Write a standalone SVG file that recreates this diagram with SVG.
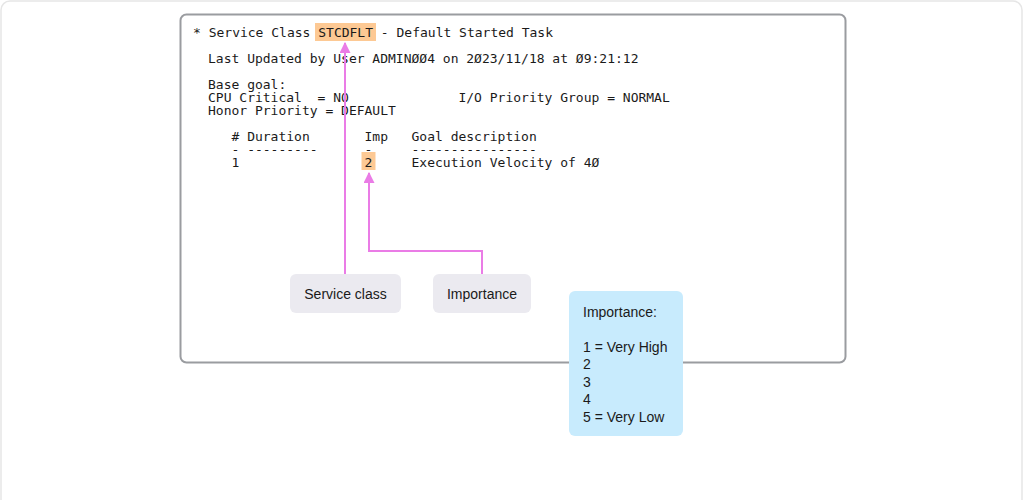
<svg xmlns="http://www.w3.org/2000/svg" width="1025" height="500" viewBox="0 0 1025 500">
<style>
.mono{font-family:"DejaVu Sans Mono","Liberation Mono",monospace;font-size:13px;fill:#1a1a1a;white-space:pre}
.sans{font-family:"Liberation Sans",Arial,sans-serif;font-size:14px;fill:#1a1a1a}
.hl{fill:#fdc994}
.conn{fill:none;stroke:#ea7ce6;stroke-width:2}
.tag{fill:#ebeaf0}
</style>
<defs>
<marker id="ah" viewBox="0 0 10 10" refX="9" refY="5" markerWidth="5.5" markerHeight="5.5" orient="auto" markerUnits="strokeWidth">
<path d="M0,0 L10,5 L0,10 Z" fill="#ea7ce6"/>
</marker>
</defs>
<rect x="1" y="1" width="1021" height="520" rx="9" fill="#ffffff" stroke="#e6e6e6" stroke-width="1.5"/>
<g id="screen">
<rect x="180.5" y="14.5" width="665" height="348" rx="6" fill="#ffffff" stroke="#9a9ca0" stroke-width="2"/>
<rect class="hl" x="315" y="23" width="61" height="18"/>
<rect class="hl" x="361.5" y="152" width="14" height="18"/>
<text class="mono" x="193" y="37" xml:space="preserve">* Service Class STCDFLT - Default Started Task</text>
<text class="mono" x="208" y="63" xml:space="preserve">Last Updated by User ADMINØØ4 on 2Ø23/11/18 at Ø9:21:12</text>
<text class="mono" x="208" y="89" xml:space="preserve">Base goal:</text>
<text class="mono" x="208" y="102" xml:space="preserve">CPU Critical  = NO              I/O Priority Group = NORMAL</text>
<text class="mono" x="208" y="115" xml:space="preserve">Honor Priority = DEFAULT</text>
<text class="mono" x="208" y="141" xml:space="preserve">   # Duration       Imp   Goal description</text>
<text class="mono" x="208" y="154" xml:space="preserve">   - ---------      -     ----------------</text>
<text class="mono" x="208" y="167" xml:space="preserve">   1                2     Execution Velocity of 4Ø</text>
</g>
<g id="connectors">
<path class="conn" d="M345,274 V43" marker-end="url(#ah)"/>
<path class="conn" d="M482,274 V251 H369 V173" marker-end="url(#ah)"/>
</g>
<g id="service-class">
<rect class="tag" x="290" y="274" width="111" height="39" rx="6"/>
<text class="sans" x="345.5" y="299" text-anchor="middle">Service class</text>
</g>
<g id="importance">
<rect class="tag" x="433" y="274" width="98" height="39" rx="6"/>
<text class="sans" x="482" y="299" text-anchor="middle">Importance</text>
</g>
<g id="legend">
<rect x="569" y="291" width="114" height="145" rx="6" fill="#c8ebfd"/>
<text class="sans" x="583" y="317">Importance:</text>
<text class="sans" x="583" y="352">1 = Very High</text>
<text class="sans" x="583" y="369">2</text>
<text class="sans" x="583" y="387">3</text>
<text class="sans" x="583" y="404">4</text>
<text class="sans" x="583" y="422">5 = Very Low</text>
</g>
</svg>
